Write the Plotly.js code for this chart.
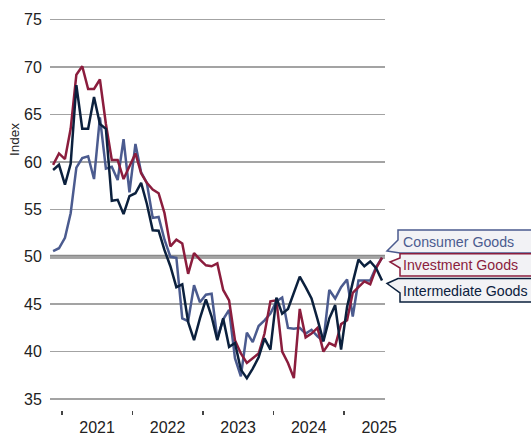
<!DOCTYPE html>
<html>
<head>
<meta charset="utf-8">
<script src="https://cdn.plot.ly/plotly-3.0.1.min.js"></script>
<style>html,body{margin:0;padding:0;background:#fff;}#chart{width:531px;height:435px;}</style>
</head>
<body>
<div id="chart"></div>
<script>
// Monthly observations, Nov 2020 - Jul 2025
const months = [
  "2020-11","2020-12",
  "2021-01","2021-02","2021-03","2021-04","2021-05","2021-06","2021-07","2021-08","2021-09","2021-10","2021-11","2021-12",
  "2022-01","2022-02","2022-03","2022-04","2022-05","2022-06","2022-07","2022-08","2022-09","2022-10","2022-11","2022-12",
  "2023-01","2023-02","2023-03","2023-04","2023-05","2023-06","2023-07","2023-08","2023-09","2023-10","2023-11","2023-12",
  "2024-01","2024-02","2024-03","2024-04","2024-05","2024-06","2024-07","2024-08","2024-09","2024-10","2024-11","2024-12",
  "2025-01","2025-02","2025-03","2025-04","2025-05","2025-06","2025-07"
];

const consumerGoods = [
  50.6, 50.9,
  52.0, 54.6, 59.4, 60.4, 60.6, 58.2, 64.7, 59.3, 59.5, 58.1, 62.4, 56.8,
  61.9, 58.9, 57.8, 54.1, 54.2, 51.8, 50.0, 49.9, 43.5, 43.2, 47.0, 45.2,
  46.0, 46.1, 41.4, 43.4, 44.4, 39.3, 37.4, 42.0, 41.0, 42.7, 43.3, 44.0,
  45.3, 45.7, 42.5, 42.4, 42.5, 41.9, 42.3, 41.6, 41.1, 46.5, 45.6, 46.8,
  47.6, 43.7, 47.5, 47.5, 47.5, 48.9, 49.9
];

const investmentGoods = [
  59.7, 60.9,
  60.3, 63.5, 69.2, 70.1, 67.7, 67.7, 68.7, 64.0, 60.2, 60.2, 58.2, 59.6,
  60.9, 58.8, 57.8, 57.1, 56.7, 54.6, 51.1, 51.8, 51.4, 48.2, 50.4, 49.7,
  49.1, 49.0, 49.3, 46.5, 45.4, 41.2, 39.8, 38.8, 39.3, 39.8, 41.9, 45.3,
  45.4, 40.0, 38.8, 37.2, 44.5, 41.5, 41.9, 42.5, 40.0, 40.9, 40.6, 42.9,
  43.3, 46.2, 46.8, 47.4, 47.1, 48.8, 49.9
];

const intermediateGoods = [
  59.15, 59.7,
  57.6, 59.8, 68.1, 63.5, 63.5, 66.85, 64.0, 63.5, 55.9, 56.0, 54.5, 56.4,
  56.7, 57.8, 55.6, 52.8, 52.75, 50.7, 49.0, 46.8, 47.1, 43.1, 41.2, 43.5,
  45.5, 43.7, 41.2, 43.5, 40.5, 40.9, 38.1, 37.2, 38.2, 39.4, 41.4, 40.2,
  45.7, 44.0, 44.5, 46.2, 47.9, 46.8, 45.6, 43.4, 41.1, 43.5, 44.9, 40.2,
  44.7, 47.3, 49.7, 49.0, 49.5, 48.8, 47.5
];

const seriesNames = ["Consumer Goods", "Investment Goods", "Intermediate Goods"];
const seriesColors = ["#4b5b8f", "#8b1d3d", "#0b203d"];

const yearTickVals = ["2021-07-02","2022-07-02","2023-07-02","2024-07-02","2025-07-02"];
const yearTickText = ["2021","2022","2023","2024","2025"];
const yearBoundaries = ["2021-01-01","2022-01-01","2023-01-01","2024-01-01","2025-01-01"];
const yTickVals = [35, 40, 45, 50, 55, 60, 65, 70, 75];

const FONT = "Liberation Sans, Arial, sans-serif";

const allSeries = [consumerGoods, investmentGoods, intermediateGoods];
const traces = allSeries.map((vals, k) => ({
  type: "scatter",
  mode: "lines",
  name: seriesNames[k],
  x: months,
  y: vals,
  xperiod: "M1",
  xperiodalignment: "middle",
  line: {color: seriesColors[k], width: 2.5},
  hoverinfo: "skip"
}));

// plot area geometry (px) for callout decorations
const L = 50, R = 385, T = 15, B = 410;
const px = (x) => ((x - L) / (R - L)).toFixed(5);
const py = (y) => ((B - y) / (B - T)).toFixed(5);
function pathFrom(points) {
  return "M " + points.map(p => px(p[0]) + "," + py(p[1])).join(" L ") + " Z";
}
const calloutPolys = [
  [[398,230],[545,230],[545,253],[400,253],[387,251],[398,240]],
  [[400,253.8],[545,253.8],[545,276],[400,276],[400,268],[390,262],[400,258]],
  [[398,278.5],[545,278.5],[545,302],[400,302],[400,293],[387,283.5]]
];
const calloutTextY = [241.5, 265, 290.5];

const shapes = [{
  type: "line", xref: "paper", yref: "y", x0: 0, x1: 1, y0: 50, y1: 50,
  line: {color: "#8a8a8a", width: 4}, layer: "between"
}];
const annotations = [{
  xref: "paper", yref: "paper", x: px(14), y: py(140), text: "Index",
  textangle: -90, showarrow: false, xanchor: "center", yanchor: "middle",
  font: {family: FONT, size: 13.5, color: "#222"}
}];
calloutPolys.forEach((poly, k) => {
  shapes.push({
    type: "path", xref: "paper", yref: "paper", path: pathFrom(poly),
    fillcolor: "#f2f2f5", line: {color: seriesColors[k], width: 1.5}, layer: "above"
  });
  annotations.push({
    xref: "paper", yref: "paper", x: px(401.5), y: py(calloutTextY[k]),
    text: seriesNames[k], showarrow: false, xanchor: "left", yanchor: "middle",
    font: {family: FONT, size: 14.2, color: seriesColors[k]}
  });
});

const layout = {
  width: 531, height: 435,
  margin: {l: L, r: 531 - R, t: T, b: 435 - B},
  paper_bgcolor: "#ffffff", plot_bgcolor: "#ffffff",
  showlegend: false,
  font: {family: FONT, size: 16, color: "#222"},
  xaxis: {
    type: "date",
    range: ["2020-10-31", "2025-08-01"],
    tickmode: "array", tickvals: yearTickVals, ticktext: yearTickText,
    ticks: "outside", ticklen: 3, tickcolor: "rgba(0,0,0,0)",
    showgrid: false, zeroline: false, showline: false,
    tickfont: {family: FONT, size: 16, color: "#222"},
    minor: {tickmode: "array", tickvals: yearBoundaries, ticks: "outside", ticklen: 4, tickwidth: 1.2, tickcolor: "#444", showgrid: false}
  },
  yaxis: {
    range: [33.84, 75.5],
    tickmode: "array", tickvals: yTickVals,
    ticks: "outside", ticklen: 4, tickcolor: "rgba(0,0,0,0)",
    showgrid: true, gridcolor: "#a3a3a3", gridwidth: 1.5,
    zeroline: false, showline: false,
    tickfont: {family: FONT, size: 16, color: "#222"}
  },
  shapes: shapes,
  annotations: annotations
};

Plotly.newPlot("chart", traces, layout, {displayModeBar: false, staticPlot: true});
</script>
</body>
</html>
